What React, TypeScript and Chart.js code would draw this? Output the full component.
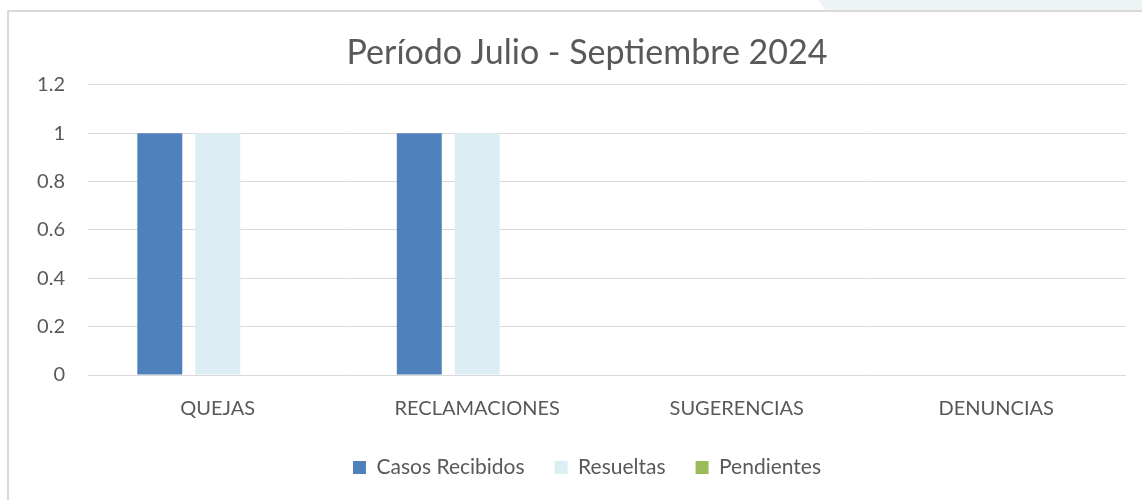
import React, { useEffect, useRef } from "react";
import { Chart, registerables } from "chart.js";

Chart.register(...registerables);

const titleText = "Período Julio - Septiembre 2024";
const categories = ["QUEJAS", "RECLAMACIONES", "SUGERENCIAS", "DENUNCIAS"];
const casosRecibidos = [1, 1, 0, 0];
const resueltas = [1, 1, 0, 0];
const pendientes = [0, 0, 0, 0];
const yTickLabels = ["0", "0.2", "0.4", "0.6", "0.8", "1", "1.2"];

const TEXT = "#595959";
const FONT = "Lato";

export default function App() {
  const ref = useRef<HTMLCanvasElement | null>(null);

  useEffect(() => {
    document.body.style.overflow = "hidden";
    const canvas = ref.current;
    if (!canvas) return;
    const chart = new Chart(canvas, {
      type: "bar",
      data: {
        labels: categories,
        datasets: [
          { label: "Casos Recibidos", data: casosRecibidos, backgroundColor: "#4f81bd" },
          { label: "Resueltas", data: resueltas, backgroundColor: "#dbeef4" },
          { label: "Pendientes", data: pendientes, backgroundColor: "#9bbb59" },
        ],
      },
      options: {
        animation: false,
        responsive: false,
        maintainAspectRatio: false,
        layout: { padding: { left: 10, right: 16, top: 0, bottom: 12 } },
        datasets: {
          bar: { categoryPercentage: 0.67, barPercentage: 0.776 },
        },
        plugins: {
          title: {
            display: true,
            text: titleText,
            color: TEXT,
            font: { family: FONT, size: 34, weight: "normal" },
            padding: { top: 33, bottom: 11 },
          },
          legend: {
            position: "bottom",
            labels: {
              boxWidth: 13,
              boxHeight: 13,
              padding: 30,
              color: TEXT,
              font: { family: FONT, size: 21 },
            },
          },
          tooltip: { enabled: false },
        },
        scales: {
          x: {
            grid: { display: false },
            border: { display: false },
            ticks: { color: TEXT, font: { family: FONT, size: 20 }, padding: 14 },
            afterFit: (s: any) => {
              s.height = 52;
            },
          },
          y: {
            min: 0,
            max: 1.2,
            grid: { color: "#d9d9d9", lineWidth: 1, drawTicks: false },
            border: { display: false },
            ticks: {
              stepSize: 0.2,
              color: TEXT,
              font: { family: FONT, size: 20 },
              padding: 23,
              callback: (v: any) => yTickLabels[Math.round(Number(v) / 0.2)],
            },
            afterFit: (s: any) => {
              s.width = 78;
            },
          },
          yRight: {
            position: "right",
            min: 0,
            max: 1.2,
            grid: { display: false },
            border: { display: false },
            ticks: { display: false },
            afterFit: (s: any) => {
              s.width = 38;
            },
          },
        },
      },
    });
    return () => chart.destroy();
  }, []);

  return (
    <div style={{ position: "absolute", left: 0, top: 0, width: 1142, height: 500, overflow: "hidden", background: "#fff" }}>
      <div
        style={{
          position: "absolute",
          left: 818,
          top: 0,
          width: 330,
          height: 11,
          background: "#eef3f6",
          clipPath: "polygon(0 0, 100% 0, 100% 100%, 8px 100%)",
        }}
      />
      <div
        style={{
          position: "absolute",
          left: 7,
          top: 10,
          width: 1200,
          height: 600,
          borderLeft: "2px solid #d9d9d9",
          borderTop: "2px solid #d9d9d9",
        }}
      />
      <canvas ref={ref} width={1180} height={500} style={{ position: "absolute", left: 0, top: 0, width: 1180, height: 500 }} />
    </div>
  );
}
